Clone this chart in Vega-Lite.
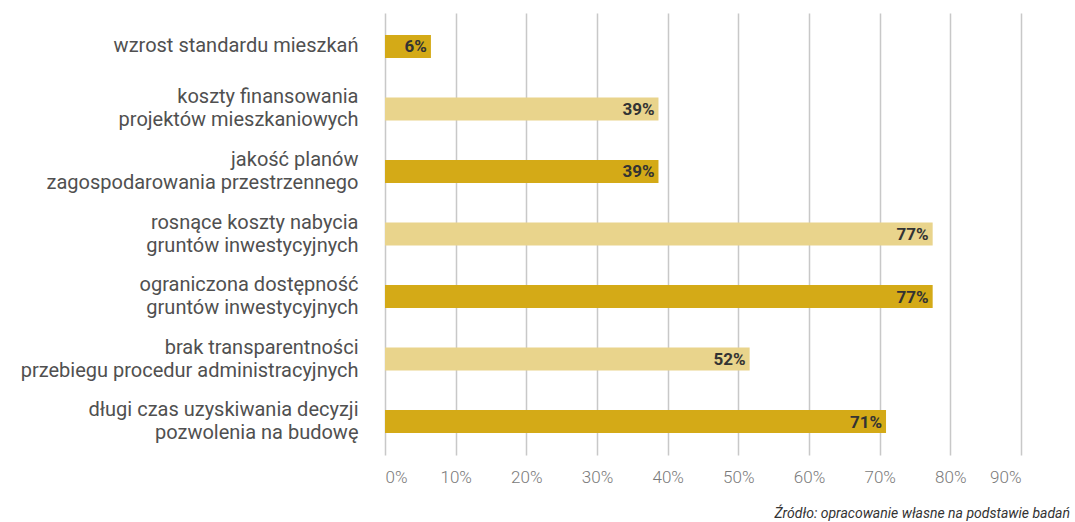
{
  "$schema": "https://vega.github.io/schema/vega-lite/v6.json",
  "width": 636,
  "height": 442,
  "autosize": {"type": "none"},
  "padding": {"left": 385, "top": 13, "right": 54, "bottom": 67},
  "background": "white",
  "config": {
    "view": {"stroke": null},
    "font": "Roboto"
  },
  "title": {
    "text": "Źródło: opracowanie własne na podstawie badań",
    "orient": "bottom",
    "anchor": "end",
    "dx": 49,
    "offset": 22,
    "fontSize": 14,
    "fontStyle": "italic",
    "fontWeight": "normal",
    "font": "Roboto",
    "color": "#333333"
  },
  "data": {
    "values": [
      {"czynnik": "wzrost standardu mieszkań", "wartosc": 0.065, "etykieta": "6%"},
      {"czynnik": "koszty finansowania|projektów mieszkaniowych", "wartosc": 0.387, "etykieta": "39%"},
      {"czynnik": "jakość planów|zagospodarowania przestrzennego", "wartosc": 0.387, "etykieta": "39%"},
      {"czynnik": "rosnące koszty nabycia|gruntów inwestycyjnych", "wartosc": 0.775, "etykieta": "77%"},
      {"czynnik": "ograniczona dostępność|gruntów inwestycyjnych", "wartosc": 0.775, "etykieta": "77%"},
      {"czynnik": "brak transparentności|przebiegu procedur administracyjnych", "wartosc": 0.516, "etykieta": "52%"},
      {"czynnik": "długi czas uzyskiwania decyzji|pozwolenia na budowę", "wartosc": 0.709, "etykieta": "71%"}
    ]
  },
  "encoding": {
    "y": {
      "field": "czynnik",
      "type": "nominal",
      "sort": null,
      "scale": {"paddingInner": 0.63, "paddingOuter": 0.35},
      "axis": {
        "title": null,
        "domain": false,
        "ticks": false,
        "labelExpr": "split(datum.label, '|')",
        "labelFont": "Roboto",
        "labelFontSize": 20,
        "labelFontWeight": "normal",
        "labelColor": "#505050",
        "labelPadding": 27,
        "labelLineHeight": 23,
        "labelLimit": 400,
        "labelOffset": {
          "condition": {"test": "indexof(datum.value, '|') >= 0", "value": -11.5},
          "value": 0
        }
      }
    },
    "x": {
      "field": "wartosc",
      "type": "quantitative",
      "scale": {"domain": [0, 0.9], "nice": false},
      "axis": {
        "title": null,
        "values": [0, 0.1, 0.2, 0.3, 0.4, 0.5, 0.6, 0.7, 0.8, 0.9],
        "format": ".0%",
        "domain": false,
        "ticks": false,
        "grid": true,
        "gridColor": "#c8c8c8",
        "gridWidth": 1.5,
        "labelFont": "Roboto",
        "labelFontSize": 17,
        "labelFontWeight": 300,
        "labelColor": "#7a7a7a",
        "labelPadding": 14
      }
    }
  },
  "layer": [
    {
      "mark": {"type": "bar"},
      "encoding": {
        "color": {
          "field": "czynnik",
          "type": "nominal",
          "legend": null,
          "scale": {
            "domain": [
              "wzrost standardu mieszkań",
              "koszty finansowania|projektów mieszkaniowych",
              "jakość planów|zagospodarowania przestrzennego",
              "rosnące koszty nabycia|gruntów inwestycyjnych",
              "ograniczona dostępność|gruntów inwestycyjnych",
              "brak transparentności|przebiegu procedur administracyjnych",
              "długi czas uzyskiwania decyzji|pozwolenia na budowę"
            ],
            "range": ["#d4aa17", "#e9d48c", "#d4aa17", "#e9d48c", "#d4aa17", "#e9d48c", "#d4aa17"]
          }
        }
      }
    },
    {
      "mark": {
        "type": "text",
        "align": "right",
        "baseline": "middle",
        "dx": -4,
        "dy": 1,
        "font": "Roboto",
        "fontSize": 17,
        "fontWeight": "bold",
        "color": "#333333"
      },
      "encoding": {
        "text": {"field": "etykieta"}
      }
    }
  ]
}
